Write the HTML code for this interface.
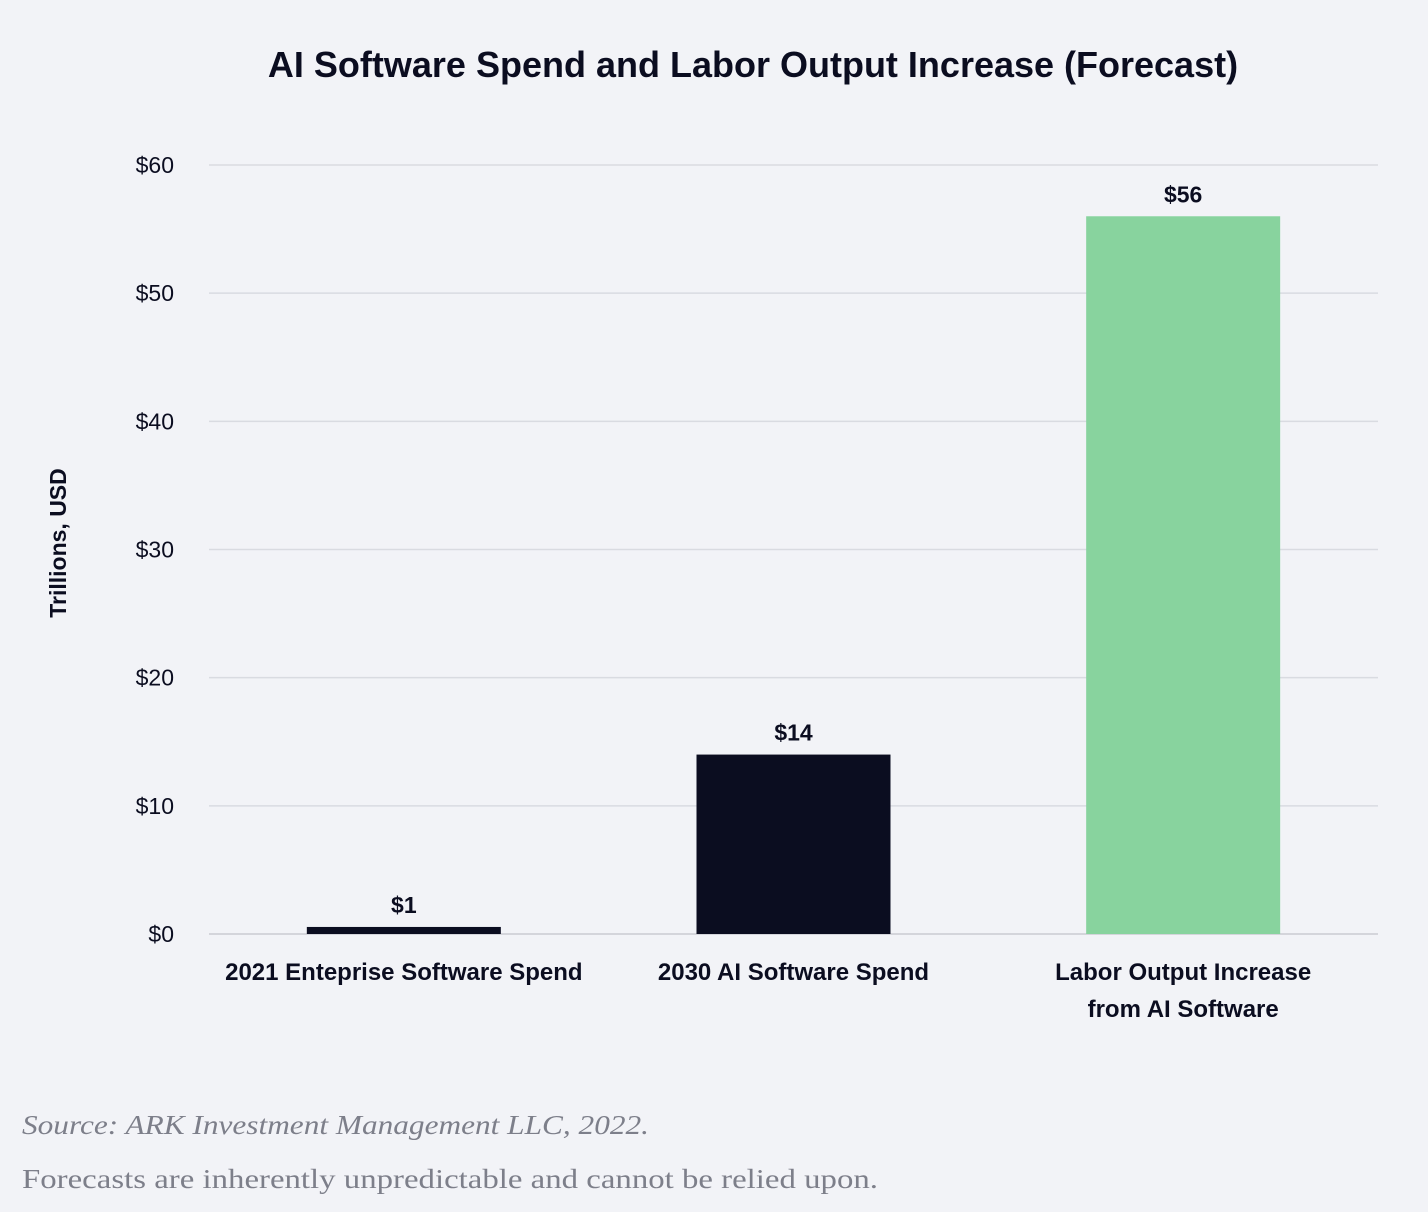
<!DOCTYPE html>
<html><head><meta charset="utf-8"><style>
html,body{margin:0;padding:0;background:#f2f3f7;}
body{width:1428px;height:1212px;overflow:hidden;position:relative;font-family:"Liberation Sans",sans-serif;}
</style></head><body>
<svg id="chart" width="1428" height="1212" style="position:absolute;left:0;top:0">
<text x="753" y="77" text-anchor="middle" font-size="36" font-weight="bold" fill="#0b0d20">AI Software Spend and Labor Output Increase (Forecast)</text>
<text transform="translate(66,543) rotate(-90)" text-anchor="middle" font-size="23" font-weight="bold" fill="#0b0d20">Trillions, USD</text>
<g id="grid"></g><g id="bars"></g><g id="labels"></g>
<text x="22" y="1134" font-family="Liberation Serif, serif" font-style="italic" font-size="27" fill="#7d7f8a" textLength="627" lengthAdjust="spacingAndGlyphs">Source: ARK Investment Management LLC, 2022.</text>
<text x="22" y="1188" font-family="Liberation Serif, serif" font-size="27" fill="#7d7f8a" textLength="856" lengthAdjust="spacingAndGlyphs">Forecasts are inherently unpredictable and cannot be relied upon.</text>
</svg>
<script>
const categories=[["2021 Enteprise Software Spend"],["2030 AI Software Spend"],["Labor Output Increase","from AI Software"]];
const values=[0.55,14,56];
const valueLabels=["$1","$14","$56"];
const colors=["#0b0d20","#0b0d20","#88d39e"];
const yTicks=[0,10,20,30,40,50,60];
const NS="http://www.w3.org/2000/svg";
const x0=209,x1=1378,yBase=934,yTop=165,yMax=60;
const band=(x1-x0)/categories.length,barW=194;
function y(v){return yBase-(v/yMax)*(yBase-yTop);}
function cx(i){return x0+band*(i+0.5);}
function mk(tag,attrs,parent){const e=document.createElementNS(NS,tag);for(const k in attrs)e.setAttribute(k,attrs[k]);parent.appendChild(e);return e;}
const grid=document.getElementById('grid'),bars=document.getElementById('bars'),labels=document.getElementById('labels');
yTicks.forEach(t=>{
 const l=mk('line',{x1:x0,x2:x1,y1:y(t),y2:y(t),stroke:t===0?'#c9cbd2':'#d9dbe1','stroke-width':1.5},grid);
 
 
 const tx=mk('text',{x:174,y:y(t)+8,'text-anchor':'end','font-size':23,fill:'#0b0d20'},grid);
 tx.textContent='$'+t;
 
 
});
values.forEach((v,i)=>{
 const r=mk('rect',{x:cx(i)-barW/2,y:y(v),width:barW,height:yBase-y(v),fill:colors[i]},bars);
 
 
 const vl=mk('text',{x:cx(i),y:y(v)-14,'text-anchor':'middle','font-size':23,'font-weight':'bold',fill:'#0b0d20'},labels);
 vl.textContent=valueLabels[i];
 
 
 categories[i].forEach((line,j)=>{
  const c=mk('text',{x:cx(i),y:980+j*37,'text-anchor':'middle','font-size':24,'font-weight':'bold',fill:'#0b0d20'},labels);
  c.textContent=line;
  
  
 });
});
</script>
</body></html>
